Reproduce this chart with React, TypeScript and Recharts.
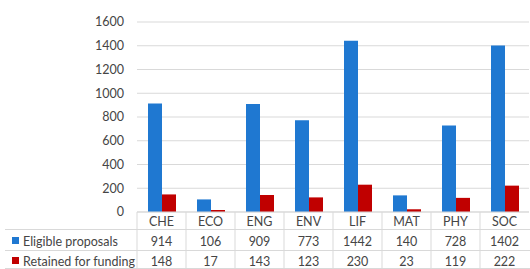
import { BarChart, Bar, XAxis, YAxis, CartesianGrid } from "recharts"

// Panels
const categories = ["CHE", "ECO", "ENG", "ENV", "LIF", "MAT", "PHY", "SOC"]
// Proposals per panel
const eligible = [914, 106, 909, 773, 1442, 140, 728, 1402]
const retained = [148, 17, 143, 123, 230, 23, 119, 222]
const yTicks = [0, 200, 400, 600, 800, 1000, 1200, 1400, 1600]

const seriesNames = ["Eligible proposals", "Retained for funding"]
const COLORS = ["#1f78d1", "#c00000"]

const data = categories.map((cat, i) => ({
  cat,
  eligible: eligible[i],
  retained: retained[i],
}))

const FONT = "Lato, 'Open Sans', sans-serif"
const TEXT = "#454545"
const LINE = "#d9d9d9"

// plot area geometry (matches chart margins below)
const PLOT_LEFT = 137
const CHART_W = 530
const BAND = (CHART_W - 1 - PLOT_LEFT) / categories.length

// Renders the data table under the x axis, one column per tick
function TableTick(props: any) {
  const { x, payload } = props
  const i = payload.index
  const left = x - BAND / 2
  return (
    <g fontFamily={FONT} fontSize={12.5} fill={TEXT}>
      {i === 0 && (
        <g>
          <line x1={5} x2={CHART_W} y1={229.5} y2={229.5} stroke={LINE} />
          <line x1={5} x2={CHART_W} y1={250.5} y2={250.5} stroke={LINE} />
          <line x1={5} x2={CHART_W} y1={268.5} y2={268.5} stroke={LINE} />
          {seriesNames.map((name, k) => (
            <g key={name}>
              <rect x={12} y={237 + k * 20} width={7} height={7} fill={COLORS[k]} />
              <text x={23} y={241 + k * 20} dominantBaseline="central" textAnchor="start">
                {name}
              </text>
            </g>
          ))}
        </g>
      )}
      <line x1={left} x2={left} y1={212} y2={269} stroke={LINE} />
      <text x={x} y={221} textAnchor="middle" dominantBaseline="central">
        {payload.value}
      </text>
      <text x={x} y={241} textAnchor="middle" dominantBaseline="central">
        {eligible[i]}
      </text>
      <text x={x} y={261} textAnchor="middle" dominantBaseline="central">
        {retained[i]}
      </text>
    </g>
  )
}

export default function App() {
  return (
    <div style={{ position: "absolute", left: 0, top: 0, width: 530, height: 269, background: "#fff" }}>
      <BarChart
        width={CHART_W}
        height={269}
        data={data}
        margin={{ top: 22, right: 1, left: 0, bottom: 0 }}
        barGap={0}
        barCategoryGap="21%"
      >
        <CartesianGrid vertical={false} stroke={LINE} />
        <XAxis
          dataKey="cat"
          height={57}
          interval={0}
          tickLine={false}
          axisLine={{ stroke: LINE }}
          tick={<TableTick />}
        />
        <YAxis
          width={PLOT_LEFT}
          domain={[0, 1600]}
          ticks={yTicks}
          axisLine={false}
          tickLine={false}
          tickMargin={7}
          tick={{ fontFamily: FONT, fontSize: 12.5, fill: TEXT }}
        />
        <Bar dataKey="eligible" name={seriesNames[0]} fill={COLORS[0]} barSize={14} isAnimationActive={false} />
        <Bar dataKey="retained" name={seriesNames[1]} fill={COLORS[1]} barSize={14} isAnimationActive={false} />
      </BarChart>
    </div>
  )
}
